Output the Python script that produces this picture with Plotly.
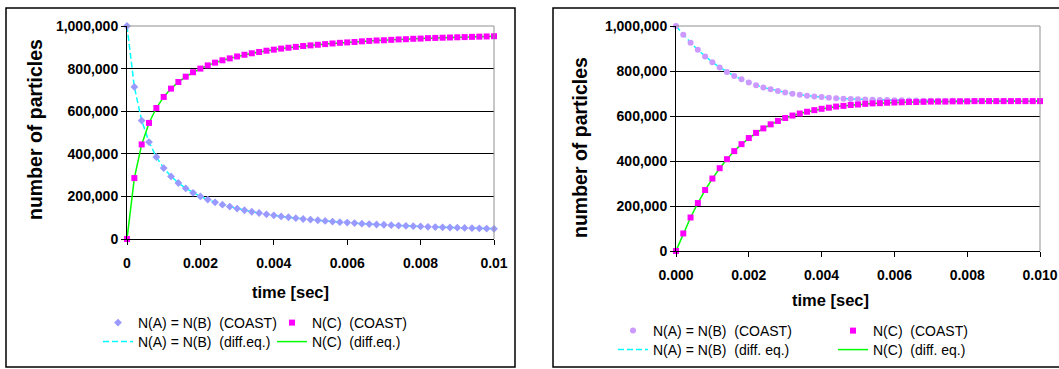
import plotly.graph_objects as go

W, H = 1059, 369
FONT = "Liberation Sans, Arial, sans-serif"

# ---------------- data ----------------
time_s = [0.0, 0.0002, 0.0004, 0.0006, 0.0008, 0.0010, 0.0012, 0.0014, 0.0016, 0.0018,
          0.0020, 0.0022, 0.0024, 0.0026, 0.0028, 0.0030, 0.0032, 0.0034, 0.0036, 0.0038,
          0.0040, 0.0042, 0.0044, 0.0046, 0.0048, 0.0050, 0.0052, 0.0054, 0.0056, 0.0058,
          0.0060, 0.0062, 0.0064, 0.0066, 0.0068, 0.0070, 0.0072, 0.0074, 0.0076, 0.0078,
          0.0080, 0.0082, 0.0084, 0.0086, 0.0088, 0.0090, 0.0092, 0.0094, 0.0096, 0.0098,
          0.0100]

# left chart (irreversible A + B -> C)
left_NA = [1000000, 714000, 556000, 455000, 385000, 333000, 294000, 263000, 238000, 217000,
           200000, 185000, 172000, 161000, 152000, 143000, 135000, 128000, 122000, 116000,
           111000, 106000, 102000, 98000, 94000, 91000, 88000, 85000, 82000, 79000,
           77000, 75000, 72000, 70000, 68000, 67000, 65000, 63000, 62000, 60000,
           59000, 57000, 56000, 55000, 54000, 53000, 52000, 51000, 50000, 49000,
           48000]
left_NC = [0, 286000, 444000, 545000, 615000, 667000, 706000, 737000, 762000, 783000,
           800000, 815000, 828000, 839000, 848000, 857000, 865000, 872000, 878000, 884000,
           889000, 894000, 898000, 902000, 906000, 909000, 912000, 915000, 918000, 921000,
           923000, 925000, 928000, 930000, 932000, 933000, 935000, 937000, 938000, 940000,
           941000, 943000, 944000, 945000, 946000, 947000, 948000, 949000, 950000, 951000,
           952000]

# right chart (reversible reaction)
right_NA = [1000000, 961000, 926000, 894000, 865000, 839000, 816000, 796000, 778000, 763000,
            749000, 737000, 727000, 719000, 711000, 705000, 699000, 694000, 690000, 687000,
            684000, 681000, 679000, 677000, 676000, 674000, 673000, 672000, 671000, 671000,
            670000, 670000, 669000, 669000, 668000, 668000, 668000, 668000, 668000, 667000,
            667000, 667000, 667000, 667000, 667000, 667000, 667000, 667000, 667000, 667000,
            667000]
right_NC = [0, 78000, 149000, 213000, 271000, 322000, 368000, 408000, 444000, 475000,
            502000, 525000, 545000, 563000, 578000, 591000, 602000, 611000, 619000, 626000,
            632000, 637000, 642000, 645000, 649000, 651000, 654000, 656000, 657000, 659000,
            660000, 661000, 662000, 662000, 663000, 664000, 664000, 664000, 665000, 665000,
            665000, 666000, 666000, 666000, 666000, 666000, 666000, 666000, 666000, 666000,
            666000]

y_ticks = [0, 200000, 400000, 600000, 800000, 1000000]
x_ticks = [0, 0.002, 0.004, 0.006, 0.008, 0.010]
left_x_ticktext = ["0", "0.002", "0.004", "0.006", "0.008", "0.01"]
right_x_ticktext = ["0.000", "0.002", "0.004", "0.006", "0.008", "0.010"]

NB = "\u00a0"
left_names = [f"N(A) = N(B){NB}{NB}(COAST)", f"N(C){NB}{NB}(COAST)",
              f"N(A) = N(B){NB}{NB}(diff.eq.)", f"N(C){NB}{NB}(diff.eq.)"]
right_names = [f"N(A) = N(B){NB}{NB}(COAST)", f"N(C){NB}{NB}(COAST)",
               f"N(A) = N(B){NB}{NB}(diff. eq.)", f"N(C){NB}{NB}(diff. eq.)"]

# ---------------- helpers ----------------
def px(x):
    return x / W


def py(y):
    return 1 - y / H


CYAN, GREEN, MAGENTA = "#00FFFF", "#00FF00", "#FF00FF"
BLUE_PT, PURPLE_PT = "#9999FF", "#CC99FF"

fig = go.Figure()

# left panel traces
fig.add_trace(go.Scatter(x=time_s, y=left_NA, mode="lines", name=left_names[2],
                         line=dict(color=CYAN, width=1.5, dash="6px,3px"),
                         xaxis="x", yaxis="y", legend="legend3", cliponaxis=False))
fig.add_trace(go.Scatter(x=time_s, y=left_NC, mode="lines", name=left_names[3],
                         line=dict(color=GREEN, width=1.5),
                         xaxis="x", yaxis="y", legend="legend4", cliponaxis=False))
fig.add_trace(go.Scatter(x=time_s, y=left_NA, mode="markers", name=left_names[0],
                         marker=dict(color=BLUE_PT, symbol="diamond", size=6),
                         xaxis="x", yaxis="y", legend="legend", cliponaxis=False))
fig.add_trace(go.Scatter(x=time_s, y=left_NC, mode="markers", name=left_names[1],
                         marker=dict(color=MAGENTA, symbol="square", size=6),
                         xaxis="x", yaxis="y", legend="legend2", cliponaxis=False))

# right panel traces
fig.add_trace(go.Scatter(x=time_s, y=right_NA, mode="lines", name=right_names[2],
                         line=dict(color=CYAN, width=1.5, dash="6px,3px"),
                         xaxis="x2", yaxis="y2", legend="legend7", cliponaxis=False))
fig.add_trace(go.Scatter(x=time_s, y=right_NC, mode="lines", name=right_names[3],
                         line=dict(color=GREEN, width=1.5),
                         xaxis="x2", yaxis="y2", legend="legend8", cliponaxis=False))
fig.add_trace(go.Scatter(x=time_s, y=right_NA, mode="markers", name=right_names[0],
                         marker=dict(color=PURPLE_PT, symbol="circle", size=6),
                         xaxis="x2", yaxis="y2", legend="legend5", cliponaxis=False))
fig.add_trace(go.Scatter(x=time_s, y=right_NC, mode="markers", name=right_names[1],
                         marker=dict(color=MAGENTA, symbol="square", size=6),
                         xaxis="x2", yaxis="y2", legend="legend6", cliponaxis=False))

tickfont = dict(family=FONT, size=14, color="#000", weight="bold")


def xaxis(domain, anchor, ticktext):
    return dict(domain=domain, anchor=anchor, range=[0, 0.010],
                tickmode="array", tickvals=x_ticks, ticktext=ticktext,
                showgrid=False, zeroline=False, showline=True, linecolor="#000",
                linewidth=1, ticks="outside", ticklen=5, tickcolor="#000",
                tickfont=tickfont, ticklabelstandoff=6, automargin=False)


def yaxis(domain, anchor):
    return dict(domain=domain, anchor=anchor, range=[0, 1000000],
                tickmode="array", tickvals=y_ticks, tickformat=",d",
                showgrid=True, gridcolor="#000", gridwidth=1,
                zeroline=False, showline=True, linecolor="#000", linewidth=1,
                ticks="outside", ticklen=5, tickcolor="#000", tickfont=tickfont,
                automargin=False)


L_plot = (127, 494, 26, 239)
R_plot = (676, 1040, 26, 251)

legend_common = dict(bgcolor="rgba(0,0,0,0)", font=dict(family=FONT, size=14, color="#000"),
                     itemwidth=30, xanchor="left", yanchor="middle", tracegroupgap=0,
                     xref="container", yref="container")

legend_pos = {
    "legend": (98, 323), "legend2": (272, 323), "legend3": (98, 342), "legend4": (272, 342),
    "legend5": (613, 331), "legend6": (833, 331), "legend7": (613, 350), "legend8": (833, 350),
}

layout_legends = {k: dict(legend_common, x=px(v[0]), y=py(v[1])) for k, v in legend_pos.items()}

fig.update_layout(
    width=W, height=H,
    margin=dict(l=0, r=0, t=0, b=0, autoexpand=False),
    paper_bgcolor="#fff", plot_bgcolor="#fff",
    font=dict(family=FONT, color="#000"),
    showlegend=True,
    xaxis=xaxis([px(L_plot[0]), px(L_plot[1])], "y", left_x_ticktext),
    yaxis=yaxis([py(L_plot[3]), py(L_plot[2])], "x"),
    xaxis2=xaxis([px(R_plot[0]), px(R_plot[1])], "y2", right_x_ticktext),
    yaxis2=yaxis([py(R_plot[3]), py(R_plot[2])], "x2"),
    **layout_legends,
)

shapes = []
# panel frames
for (x0, x1, y0, y1) in [(6, 515, 8, 367), (553, 1075, 8, 367)]:
    shapes.append(dict(type="rect", xref="paper", yref="paper",
                       x0=px(x0), x1=px(x1), y0=py(y1), y1=py(y0),
                       line=dict(color="#000", width=1.5), layer="below"))
# plot-area top/right gray border
for (x0, x1, y0, y1) in [L_plot, R_plot]:
    shapes.append(dict(type="line", xref="paper", yref="paper",
                       x0=px(x0), x1=px(x1), y0=py(y0), y1=py(y0),
                       line=dict(color="#909090", width=1), layer="above"))
    shapes.append(dict(type="line", xref="paper", yref="paper",
                       x0=px(x1), x1=px(x1), y0=py(y0), y1=py(y1),
                       line=dict(color="#909090", width=1), layer="above"))
fig.update_layout(shapes=shapes)

title_font = dict(family=FONT, size=16.5, color="#000")
ytitle_font = dict(family=FONT, size=19.5, color="#000")
annotations = [
    dict(text="<b>time [sec]</b>", x=px(290), y=py(292), xref="paper", yref="paper",
         showarrow=False, font=title_font, xanchor="center", yanchor="middle"),
    dict(text="<b>time [sec]</b>", x=px(830), y=py(300), xref="paper", yref="paper",
         showarrow=False, font=title_font, xanchor="center", yanchor="middle"),
    dict(text="<b>number of particles</b>", x=px(35), y=py(130), xref="paper", yref="paper",
         showarrow=False, font=ytitle_font, textangle=-90, xanchor="center", yanchor="middle"),
    dict(text="<b>number of particles</b>", x=px(580), y=py(148), xref="paper", yref="paper",
         showarrow=False, font=ytitle_font, textangle=-90, xanchor="center", yanchor="middle"),
]
fig.update_layout(annotations=annotations)

fig.write_html("out.html")
